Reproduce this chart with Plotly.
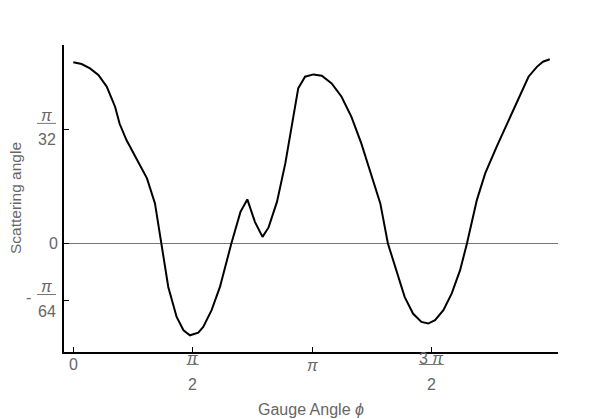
import numpy as np
import plotly.graph_objects as go

# Gauge angle phi (rad) and scattering angle
phi = [0.0, 0.11, 0.22, 0.33, 0.44, 0.55, 0.61, 0.70, 0.83, 0.97, 1.075, 1.16,
       1.25, 1.36, 1.45, 1.535, 1.645, 1.71, 1.82, 1.93, 2.08, 2.20, 2.29,
       2.39, 2.49, 2.57, 2.68, 2.79, 2.90, 2.96, 3.05, 3.16, 3.27, 3.40, 3.53,
       3.66, 3.79, 3.92, 4.04, 4.14, 4.26, 4.36, 4.47, 4.58, 4.67, 4.76, 4.87,
       4.98, 5.09, 5.18, 5.31, 5.42, 5.57, 5.75, 5.88, 5.99, 6.10, 6.18, 6.27]
scatter = [0.156, 0.1544, 0.1507, 0.145, 0.135, 0.1177, 0.103, 0.089, 0.0732,
           0.056, 0.0345, 0.0, -0.0374, -0.0632, -0.0747, -0.079, -0.0767,
           -0.0718, -0.0574, -0.0374, 0.0, 0.0272, 0.0379, 0.0186, 0.0057,
           0.0138, 0.0358, 0.0689, 0.109, 0.1335, 0.1435, 0.1455, 0.1444,
           0.1378, 0.1263, 0.109, 0.0861, 0.0603, 0.0345, 0.0, -0.0258, -0.046,
           -0.0603, -0.0675, -0.0689, -0.066, -0.0574, -0.043, -0.023, 0.0,
           0.0373, 0.0603, 0.0832, 0.109, 0.1277, 0.1435, 0.152, 0.1564, 0.1585]

# tick positions and labels (numerator / denominator, "" = plain label)
x_tickvals = [0, np.pi / 2, np.pi, 3 * np.pi / 2]
x_num = ["0", "<i>π</i>", "<i>π</i>", "3 <i>π</i>"]
x_den = ["", "2", "", "2"]
y_tickvals = [-np.pi / 64, 0, np.pi / 32]
y_num = ["<i>π</i>", "0", "<i>π</i>"]
y_den = ["64", "", "32"]
y_sign = ["-", "", ""]

XR = [-0.122, 6.378]
YR = [-0.0934, 0.1708]
GRAY = "#666666"
FS = 16

fig = go.Figure()
fig.add_trace(go.Scatter(x=phi, y=scatter, mode="lines",
                         line=dict(color="black", width=2), showlegend=False))

# x tick labels, drawn as stacked fractions below the axis
for xv, num, den in zip(x_tickvals, x_num, x_den):
    if den:
        fig.add_annotation(x=xv, y=0, xref="x", yref="paper", text=num, showarrow=False,
                           yanchor="middle", yshift=-6, font=dict(size=FS, color=GRAY))
        fig.add_annotation(x=xv, y=0, xref="x", yref="paper", text=den, showarrow=False,
                           yanchor="middle", yshift=-32, font=dict(size=FS, color=GRAY))
        half = 6 if len(num) < 10 else 12.5
        xp = (xv - XR[0]) / (XR[1] - XR[0])
        fig.add_shape(type="line", xref="paper", yref="paper", xsizemode="pixel", ysizemode="pixel",
                      xanchor=xp, yanchor=0, x0=-half, x1=half, y0=-12.5, y1=-12.5,
                      line=dict(color="#777777", width=1))
    else:
        shift = -13 if "π" in num else -12.5
        fig.add_annotation(x=xv, y=0, xref="x", yref="paper", text=num, showarrow=False,
                           yanchor="middle", yshift=shift, font=dict(size=FS, color=GRAY))

# y tick labels, stacked fractions to the left of the axis
for yv, num, den, sign in zip(y_tickvals, y_num, y_den, y_sign):
    if den:
        fig.add_annotation(x=0, y=yv, xref="paper", yref="y", text=num, showarrow=False,
                           xanchor="center", yanchor="middle", xshift=-17.5, yshift=14,
                           font=dict(size=FS, color=GRAY))
        fig.add_annotation(x=0, y=yv, xref="paper", yref="y", text=den, showarrow=False,
                           xanchor="center", yanchor="middle", xshift=-17.5, yshift=-10.5,
                           font=dict(size=FS, color=GRAY))
        fig.add_shape(type="line", xref="paper", yref="y", xsizemode="pixel", ysizemode="pixel",
                      xanchor=0, yanchor=yv, x0=-27, x1=-8, y0=6, y1=6,
                      line=dict(color="#777777", width=1))
        if sign:
            fig.add_annotation(x=0, y=yv, xref="paper", yref="y", text=sign, showarrow=False,
                               xanchor="center", yanchor="middle", xshift=-35.5, yshift=3.5,
                               font=dict(size=FS, color=GRAY))
    else:
        fig.add_annotation(x=0, y=yv, xref="paper", yref="y", text=num, showarrow=False,
                           xanchor="right", yanchor="middle", xshift=-4, yshift=0,
                           font=dict(size=FS, color=GRAY))

# axis titles
fig.add_annotation(x=0.5, y=0, xref="paper", yref="paper", text="Gauge Angle <i>ϕ</i>",
                   showarrow=False, yanchor="middle", yshift=-57, font=dict(size=16, color=GRAY))
fig.add_annotation(x=0, y=0.5, xref="paper", yref="paper", text="Scattering angle",
                   showarrow=False, textangle=-90, xanchor="center", yanchor="middle",
                   xshift=-48.5, font=dict(size=15.5, color=GRAY))

fig.update_layout(
    width=600, height=419,
    margin=dict(l=56, r=50, t=37, b=75, autoexpand=False),
    plot_bgcolor="white", paper_bgcolor="white",
    font=dict(family="Liberation Sans, Arial, sans-serif", color=GRAY, size=FS),
)
fig.update_xaxes(
    range=XR, showgrid=False, zeroline=False, automargin=False,
    showline=True, linecolor="black", linewidth=1.5,
    ticks="inside", ticklen=5, tickcolor="black",
    tickvals=x_tickvals, showticklabels=False,
)
fig.update_yaxes(
    range=YR, showgrid=False, automargin=False,
    zeroline=True, zerolinecolor="#777777", zerolinewidth=1,
    showline=True, linecolor="black", linewidth=1.5,
    ticks="inside", ticklen=5, tickcolor="black",
    tickvals=y_tickvals, showticklabels=False,
)

fig.write_html("out.html")
